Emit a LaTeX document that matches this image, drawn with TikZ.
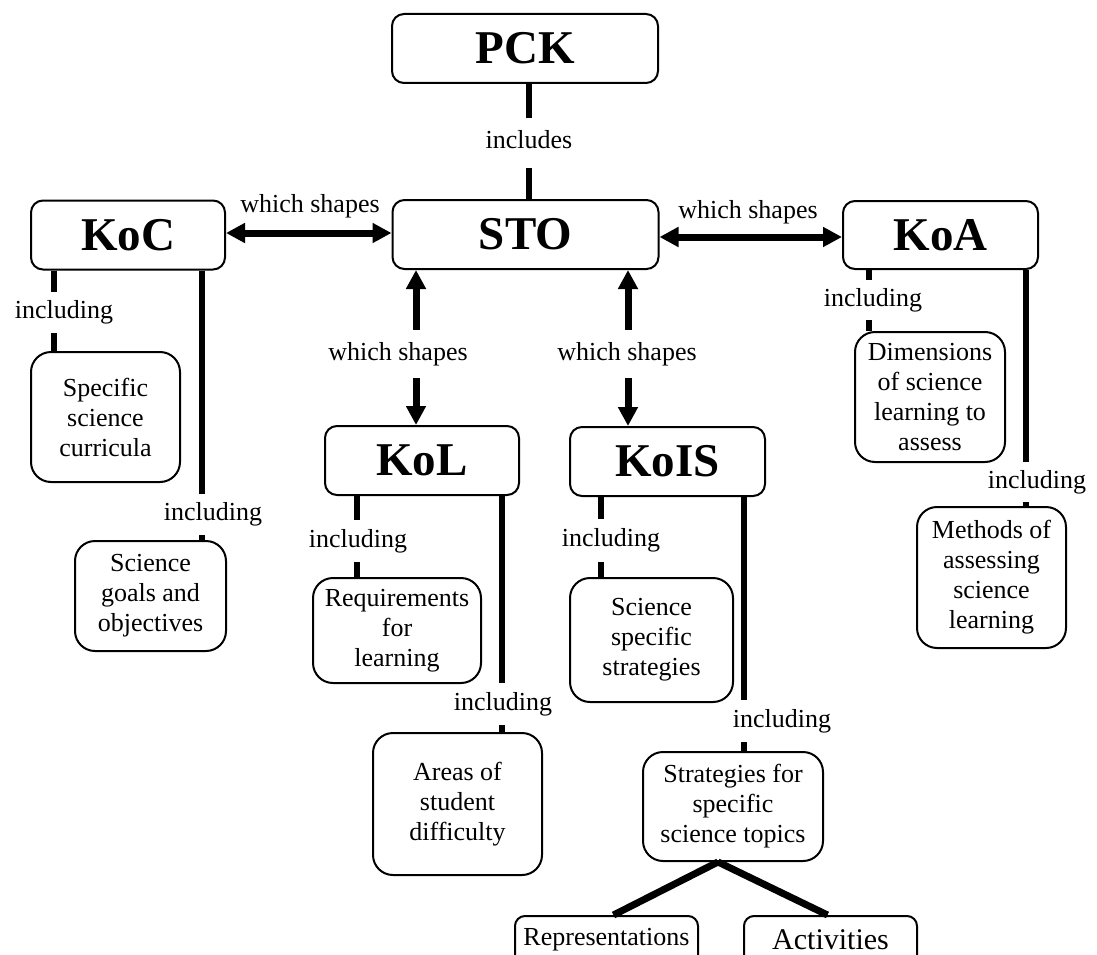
\documentclass[tikz,border=0pt]{standalone}
\usepackage{fontspec}
\setmainfont{Liberation Serif}
\usetikzlibrary{arrows.meta,calc}
\begin{document}
\begin{tikzpicture}[x=1pt,y=-1pt,
  headbox/.style={draw,line width=2pt,rounded corners=12pt,minimum width=194pt,
    minimum height=69pt,inner sep=0pt,font=\fontsize{47}{50}\selectfont\bfseries},
  topbox/.style={headbox,minimum width=266pt},
  leafbox/.style={draw,line width=2pt,rounded corners=20pt,inner sep=0pt,
    align=center,font=\fontsize{26}{30}\selectfont},
  endbox/.style={draw,line width=2pt,rounded corners=10pt,anchor=north,inner sep=0pt,
    text depth=40pt},
  link/.style={line width=6pt},
  fork/.style={line width=7pt},
  oneway/.style={line width=7pt,-{Triangle[length=19pt,width=19pt]}},
  twoway/.style={line width=7pt,{Triangle[length=19pt,width=19pt]}-{Triangle[length=19pt,width=19pt]}},
  tag/.style={inner sep=0pt,text height=18pt,text depth=6pt,font=\fontsize{26}{30}\selectfont},
]
\useasboundingbox (0,0) rectangle (1097,955);

% main concepts
\node[topbox]  (pck)  at (525,48.5)   {PCK};
\node[topbox]  (sto)  at (525.5,234.5) {STO};
\node[headbox] (koc)  at (128,235)    {KoC};
\node[headbox,minimum width=195pt,minimum height=68pt] (koa) at (940.5,235) {KoA};
\node[headbox] (kol)  at (422,460.5)  {KoL};
\node[headbox,minimum width=195pt] (kois) at (667.5,461.5) {KoIS};

% components
\node[leafbox,minimum width=149pt,minimum height=130pt] (spec)  at (105.5,417) {Specific\\science\\curricula};
\node[leafbox,minimum width=151pt,minimum height=110pt] (goals) at (150.5,596) {Science\\goals and\\objectives};
\node[leafbox,minimum width=168pt,minimum height=105pt] (req)   at (397,630.5) {Requirements\\for\\learning};
\node[leafbox,minimum width=169pt,minimum height=142pt] (areas) at (457.5,804) {Areas of\\student\\difficulty};
\node[leafbox,minimum width=163pt,minimum height=124pt] (sss)   at (651.5,640) {Science\\specific\\strategies};
\node[leafbox,minimum width=180pt,minimum height=109pt] (strat) at (733,806.5) {Strategies for\\specific\\science topics};
\node[leafbox,minimum width=150pt,minimum height=130pt] (dims)  at (930,397) {Dimensions\\of science\\learning to\\assess};
\node[leafbox,minimum width=149pt,minimum height=141pt] (meth)  at (991.5,577.5) {Methods of\\assessing\\science\\learning};

\node[endbox,minimum width=183pt,text height=29pt,font=\fontsize{26}{30}\selectfont] (rep) at (606.5,915) {Representations};
\node[endbox,minimum width=173pt,text height=33pt,font=\fontsize{30}{34}\selectfont] (act) at (830.5,915) {Activities};

% PCK includes STO
\node[tag,minimum height=50pt] (inc) at (529,143) {includes};
\draw[link] (529,0 |- pck.south) -- (529,0 |- inc.north);
\draw[link] (529,0 |- inc.south) -- (529,0 |- sto.north);

% STO shapes the other knowledge types
\node[tag] (ws1) at (310,206) {which shapes};
\draw[twoway] (koc.east |- 0,233) -- (sto.west |- 0,233);
\node[tag] (ws2) at (748,212) {which shapes};
\draw[twoway] (sto.east |- 0,237) -- (koa.west |- 0,237);

\node[tag,minimum height=48pt] (ws3) at (398,354) {which shapes};
\draw[oneway] (416,0 |- ws3.north) -- (416,0 |- sto.south);
\draw[oneway] (416,0 |- ws3.south) -- (416,0 |- kol.north);
\node[tag,minimum height=48pt] (ws4) at (627,354) {which shapes};
\draw[oneway] (628,0 |- ws4.north) -- (628,0 |- sto.south);
\draw[oneway] (628,0 |- ws4.south) -- (628,0 |- kois.north);

% KoC
\node[tag,minimum height=41pt] (c1) at (64,312.5) {including};
\draw[link] (54,0 |- koc.south) -- (54,0 |- c1.north);
\draw[link] (54,0 |- c1.south) -- (54,0 |- spec.north);
\node[tag,minimum height=41pt] (c2) at (213,514.5) {including};
\draw[link] (202,0 |- koc.south) -- (202,0 |- c2.north);
\draw[link] (202,0 |- c2.south) -- (202,0 |- goals.north);

% KoL
\node[tag,minimum height=42pt] (l1) at (358,541) {including};
\draw[link] (357,0 |- kol.south) -- (357,0 |- l1.north);
\draw[link] (357,0 |- l1.south) -- (357,0 |- req.north);
\node[tag,minimum height=42pt] (l2) at (503,704) {including};
\draw[link] (502,0 |- kol.south) -- (502,0 |- l2.north);
\draw[link] (502,0 |- l2.south) -- (502,0 |- areas.north);

% KoIS
\node[tag,minimum height=43pt] (s1) at (611,540.5) {including};
\draw[link] (601,0 |- kois.south) -- (601,0 |- s1.north);
\draw[link] (601,0 |- s1.south) -- (601,0 |- sss.north);
\node[tag,minimum height=42pt] (s2) at (782,721) {including};
\draw[link] (744,0 |- kois.south) -- (744,0 |- s2.north);
\draw[link] (744,0 |- s2.south) -- (744,0 |- strat.north);

% KoA
\node[tag,minimum height=40pt] (a1) at (873,300) {including};
\draw[link] (869,0 |- koa.south) -- (869,0 |- a1.north);
\draw[link] (869,0 |- a1.south) -- (869,0 |- dims.north);
\node[tag,minimum height=40pt] (a2) at (1037,482) {including};
\draw[link] (1026,0 |- koa.south) -- (1026,0 |- a2.north);
\draw[link] (1026,0 |- a2.south) -- (1026,0 |- meth.north);

% topic strategies split into representations and activities
\coordinate (split) at ($(strat.south)+(-15,0)$);
\draw[fork] (split) -- ($(rep.north)+(7,0)$);
\draw[fork] (split) -- ($(act.north)+(-3,0)$);
\end{tikzpicture}
\end{document}
